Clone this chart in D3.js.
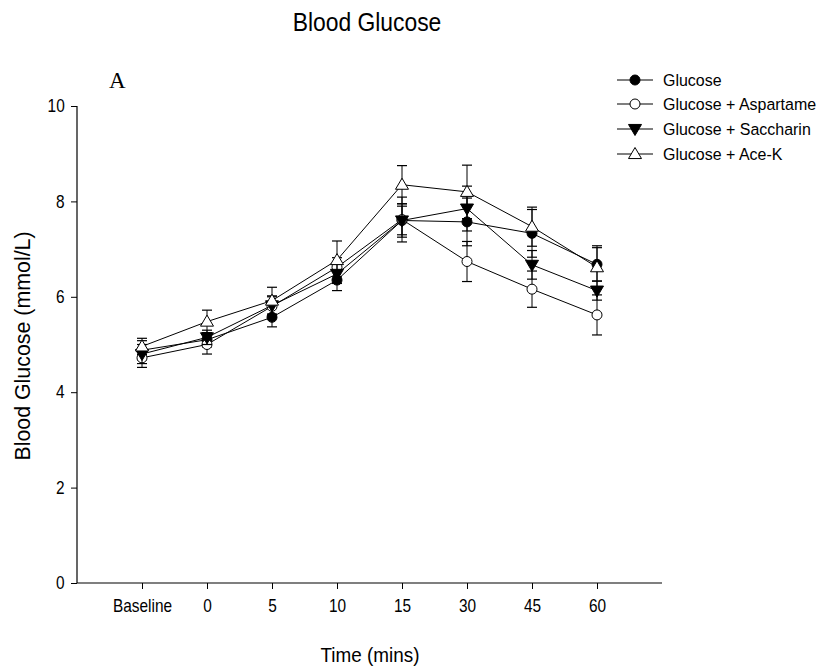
<!DOCTYPE html>
<html>
<head>
<meta charset="utf-8">
<script src="https://cdn.jsdelivr.net/npm/d3@7/dist/d3.min.js"></script>
<style>
  html, body { margin: 0; padding: 0; background: #fff; }
  svg { display: block; }
  text { font-family: Arial, "Liberation Sans", sans-serif; fill: #000; }
</style>
</head>
<body>
<svg id="chart" width="820" height="670"></svg>
<script>
// Time points (x categories)
const timePoints = ["Baseline", "0", "5", "10", "15", "30", "45", "60"];
const yTicks = [0, 2, 4, 6, 8, 10];

// Mean blood glucose (mmol/L) per condition
const glucose    = [4.88, 5.10, 5.57, 6.35, 7.60, 7.57, 7.33, 6.68];
const aspartame  = [4.72, 5.00, 5.80, 6.62, 7.62, 6.74, 6.16, 5.62];
const saccharin  = [4.80, 5.15, 5.82, 6.48, 7.60, 7.85, 6.67, 6.13];
const aceK       = [4.96, 5.48, 5.92, 6.77, 8.35, 8.20, 7.47, 6.62];

// Standard errors
const glucoseErr   = [0.20, 0.15, 0.20, 0.22, 0.30, 0.50, 0.50, 0.35];
const aspartameErr = [0.20, 0.20, 0.20, 0.20, 0.47, 0.42, 0.38, 0.42];
const saccharinErr = [0.20, 0.15, 0.20, 0.20, 0.35, 0.47, 0.30, 0.20];
const aceKErr      = [0.17, 0.24, 0.28, 0.40, 0.40, 0.56, 0.41, 0.45];

const seriesNames = ["Glucose", "Glucose + Aspartame", "Glucose + Saccharin", "Glucose + Ace-K"];

const series = [
  { name: seriesNames[0], values: glucose,   errors: glucoseErr,   symbol: "circle",  fill: "#000" },
  { name: seriesNames[1], values: aspartame, errors: aspartameErr, symbol: "circle",  fill: "#fff" },
  { name: seriesNames[2], values: saccharin, errors: saccharinErr, symbol: "triDown", fill: "#000" },
  { name: seriesNames[3], values: aceK,      errors: aceKErr,      symbol: "triUp",   fill: "#fff" }
];

const svg = d3.select("#chart");
const plotL = 77, plotR = 662, plotT = 106, plotB = 583;

const x = d3.scalePoint().domain(timePoints).range([plotL, plotR]).padding(1);
const y = d3.scaleLinear().domain([0, 10]).range([plotB, plotT]);

// Narrow-looking text: larger size, squeezed horizontally
function label(px, py, str, size, sx, opts = {}) {
  const t = svg.append("text")
    .attr("transform", `translate(${px},${py}) ${opts.rotate ? "rotate(" + opts.rotate + ")" : ""} scale(${sx},1)`)
    .attr("text-anchor", opts.anchor || "start")
    .style("font-size", size + "px")
    .text(str);
  if (opts.family) t.style("font-family", opts.family);
  return t;
}

// Title and panel letter
label(367, 31, "Blood Glucose", 26, 0.88, { anchor: "middle" });
label(109, 88, "A", 23, 1, { family: "'Liberation Serif', 'Times New Roman', serif" });

// Axes
const xAxis = d3.axisBottom(x).tickSize(6).tickPadding(11);
const gx = svg.append("g").attr("transform", `translate(0,${plotB})`).call(xAxis);
gx.select(".domain").remove();
gx.append("line").attr("x1", plotL).attr("x2", plotR).attr("y1", 0).attr("y2", 0)
  .attr("stroke", "#000").attr("stroke-width", 1.2);
gx.selectAll(".tick line").attr("stroke", "#000");
gx.selectAll(".tick text")
  .style("font-size", "17.5px").style("font-family", "Arial, 'Liberation Sans', sans-serif")
  .attr("fill", "#000").attr("transform", "scale(0.88,1)");

const yAxis = d3.axisLeft(y).tickValues(yTicks).tickSize(6).tickPadding(6);
const gy = svg.append("g").attr("transform", `translate(${plotL},0)`).call(yAxis);
gy.select(".domain").remove();
gy.append("line").attr("x1", 0).attr("x2", 0).attr("y1", plotT).attr("y2", plotB)
  .attr("stroke", "#000").attr("stroke-width", 1.2);
gy.selectAll(".tick line").attr("stroke", "#000");
gy.selectAll(".tick text")
  .style("font-size", "17.5px").style("font-family", "Arial, 'Liberation Sans', sans-serif")
  .attr("fill", "#000").attr("x", -14).attr("transform", "scale(0.88,1)");

// Axis titles
label(370, 662, "Time (mins)", 21, 0.9, { anchor: "middle" });
label(30, 346, "Blood Glucose (mmol/L)", 22.5, 0.95, { anchor: "middle", rotate: -90 });

// Symbol drawing
function drawSymbol(g, kind, fill, cx, cy) {
  if (kind === "circle") {
    g.append("circle").attr("cx", cx).attr("cy", cy).attr("r", 5)
      .attr("fill", fill).attr("stroke", "#000").attr("stroke-width", 1);
  } else {
    const s = 6.5;
    const pts = kind === "triUp"
      ? [[cx, cy - s], [cx + s, cy + s * 0.7], [cx - s, cy + s * 0.7]]
      : [[cx, cy + s], [cx + s, cy - s * 0.7], [cx - s, cy - s * 0.7]];
    g.append("polygon").attr("points", pts.map(p => p.join(",")).join(" "))
      .attr("fill", fill).attr("stroke", "#000").attr("stroke-width", 1);
  }
}

const line = d3.line().x((d, i) => x(timePoints[i])).y(d => y(d));
const capW = 5;

series.forEach(s => {
  const g = svg.append("g");
  g.append("path").attr("d", line(s.values)).attr("fill", "none")
    .attr("stroke", "#000").attr("stroke-width", 1);
  s.values.forEach((v, i) => {
    const cx = x(timePoints[i]);
    const y1 = y(v + s.errors[i]), y0 = y(v - s.errors[i]);
    g.append("line").attr("x1", cx).attr("x2", cx).attr("y1", y1).attr("y2", y0)
      .attr("stroke", "#000").attr("stroke-width", 1);
    [y1, y0].forEach(yy => g.append("line").attr("x1", cx - capW).attr("x2", cx + capW)
      .attr("y1", yy).attr("y2", yy).attr("stroke", "#000").attr("stroke-width", 1.2));
  });
  s.values.forEach((v, i) => drawSymbol(g, s.symbol, s.fill, x(timePoints[i]), y(v)));
});

// Legend
const legendRows = [80, 104, 129, 154];
series.forEach((s, i) => {
  const g = svg.append("g");
  const ly = legendRows[i];
  g.append("line").attr("x1", 617).attr("x2", 653).attr("y1", ly).attr("y2", ly)
    .attr("stroke", "#000").attr("stroke-width", 1.2);
  drawSymbol(g, s.symbol, s.fill, 635, ly);
  g.append("text").attr("x", 663).attr("y", ly + 6)
    .attr("transform", `translate(${663 * 0.06},0) scale(0.94,1)`)
    .style("font-size", "17px").text(s.name);
});
</script>
</body>
</html>
